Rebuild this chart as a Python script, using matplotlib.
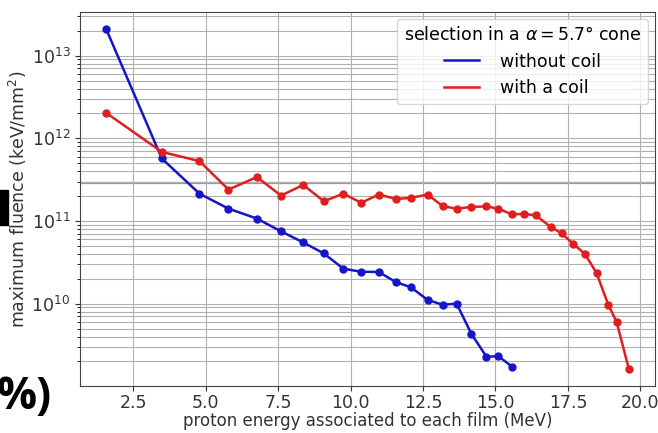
import matplotlib
matplotlib.use('Agg')
from matplotlib import pyplot as plt
from matplotlib.lines import Line2D
from matplotlib.patches import Rectangle

# energy (MeV) of each film
energy = [1.57, 3.49, 4.79, 5.79, 6.77, 7.60, 8.37, 9.08, 9.75, 10.37,
          10.97, 11.57, 12.08, 12.66, 13.18, 13.66, 14.17, 14.69, 15.10, 15.57,
          15.98, 16.39, 16.90, 17.28, 17.68, 18.09, 18.49, 18.89, 19.18, 19.60]

# maximum fluence without coil (first 20 films)
without_coil = [2.1e13, 5.7e11, 2.14e11, 1.41e11, 1.07e11, 7.5e10, 5.5e10, 4.05e10, 2.65e10, 2.43e10,
                2.42e10, 1.82e10, 1.58e10, 1.11e10, 9.7e9, 1.0e10, 4.3e9, 2.28e9, 2.32e9, 1.73e9]

# maximum fluence with a coil
with_coil = [2.03e12, 6.85e11, 5.3e11, 2.4e11, 3.4e11, 2.03e11, 2.73e11, 1.73e11, 2.14e11, 1.66e11,
             2.09e11, 1.85e11, 1.9e11, 2.09e11, 1.51e11, 1.41e11, 1.48e11, 1.5e11, 1.41e11, 1.2e11,
             1.22e11, 1.17e11, 8.5e10, 7.1e10, 5.3e10, 3.98e10, 2.33e10, 9.7e9, 6.0e9, 1.62e9]

ref_level = 2.9e11

BLUE = '#1616c8'
RED = '#e01e1e'
FS = 12.5

fig = plt.figure(figsize=(6.58, 4.33), dpi=100)
ax = fig.add_axes([0.1216, 0.1085, 0.8738, 0.8638])

ax.plot(energy[:len(without_coil)], without_coil, '-o', color=BLUE, lw=1.8, ms=5)
ax.plot(energy, with_coil, '-o', color=RED, lw=1.8, ms=5)
ax.axhline(ref_level, color='#999999', lw=1.6, zorder=0)

ax.set_yscale('log')
ax.set_xticks([2.5, 5.0, 7.5, 10.0, 12.5, 15.0, 17.5, 20.0])
ax.grid(True, which='major', axis='x', color='#b0b0b0', lw=0.8)
ax.grid(True, which='both', axis='y', color='#b0b0b0', lw=0.8)
ax.tick_params(labelsize=FS, colors='#333333')
ax.tick_params(axis='x', pad=2)
for s in ax.spines.values():
    s.set_color('#444444')

ax.set_xlabel('proton energy associated to each film (MeV)', fontsize=12, color='#333333', labelpad=0)
ax.set_ylabel('maximum fluence (keV/mm$^2$)', fontsize=FS, color='#333333', labelpad=2)

handles = [Line2D([0], [0], color=BLUE, lw=1.8), Line2D([0], [0], color=RED, lw=1.8)]
ax.legend(handles, ['without coil', 'with a coil'], title=r'selection in a $\alpha = 5.7°$ cone',
          loc='upper right', fontsize=FS, title_fontsize=FS, borderaxespad=0.4, handletextpad=1.2)

# leftovers of the slide around the chart
fig.text(-0.005, 0.055, '%)', fontsize=32, fontweight='bold', family='Open Sans')
fig.patches.append(Rectangle((0.0, 1 - 225 / 433), 8 / 658, 35 / 433, transform=fig.transFigure,
                             color='black', zorder=5))

fig.savefig('out.png', dpi=100)
